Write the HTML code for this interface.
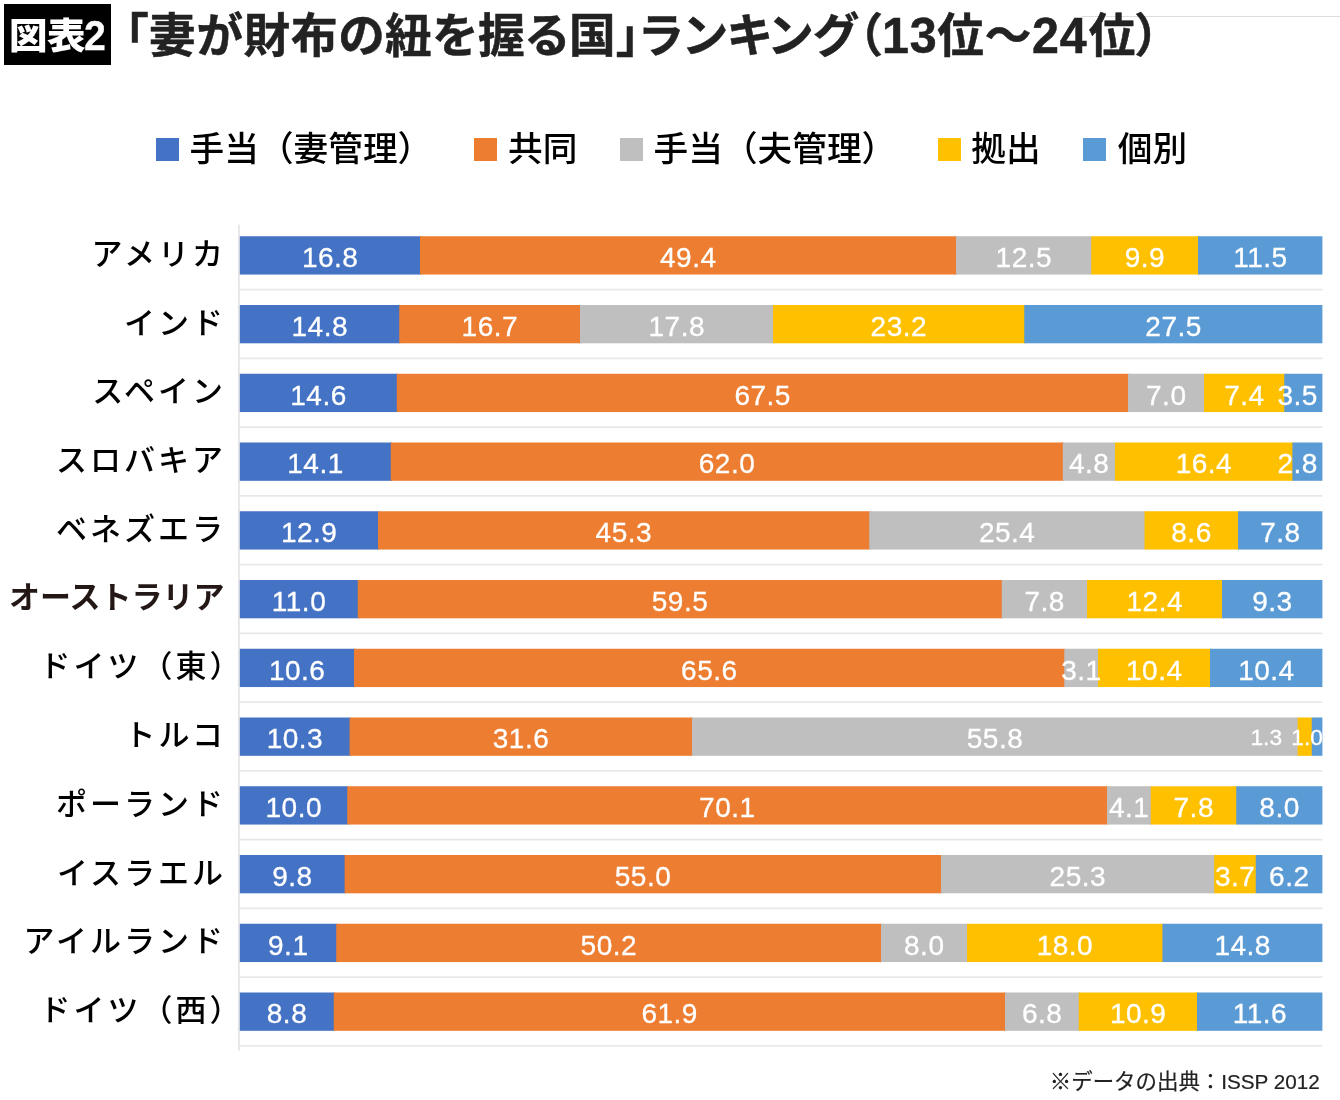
<!DOCTYPE html>
<html lang="ja">
<head>
<meta charset="utf-8">
<title>「妻が財布の紐を握る国」ランキング（13位～24位）</title>
<style>
html,body{margin:0;padding:0;background:#fff;}
body{width:1340px;height:1100px;position:relative;overflow:hidden;font-family:"Liberation Sans","Noto Sans CJK JP",sans-serif;color:#000;}
#fig{position:absolute;left:0;top:0;width:1340px;height:1100px;overflow:hidden;background:#fff;}
.rule{position:absolute;left:1082px;top:16px;width:258px;height:1px;background:#dedede;}
.badge{position:absolute;left:4px;top:4px;width:107px;height:60.6px;background:#000;}
.badge span{position:absolute;left:5.3px;top:3.2px;height:60px;color:#fff;font-weight:900;font-size:36.4px;line-height:60px;white-space:nowrap;letter-spacing:-.5px;transform:scaleX(1.06);transform-origin:0 50%;}
.badge b{position:absolute;left:80.2px;top:1.7px;height:60px;line-height:60px;color:#fff;font-weight:700;font-size:42.2px;-webkit-text-stroke:.3px #fff;transform:scaleX(.93);transform-origin:0 50%;}
h1{position:absolute;left:124.8px;top:.5px;-webkit-text-stroke:.5px #222;margin:0;height:70px;line-height:70px;font-size:46.6px;font-weight:700;color:#222;white-space:nowrap;font-feature-settings:"palt" 1;letter-spacing:.8px;}
h1 i{font-style:normal;margin-left:1.3px;}
h1 span{display:inline-block;position:relative;top:1.5px;font-size:49.4px;line-height:1;transform:scaleX(.98);transform-origin:0 50%;margin-right:-1.1px;}
.legend{position:absolute;left:0;top:122px;height:50px;width:1340px;margin:0;padding:0;list-style:none;}
.legend li{position:absolute;top:1.6px;height:50px;line-height:50px;font-size:34.67px;font-weight:500;white-space:nowrap;}
.legend i{position:absolute;top:14.6px;width:23px;height:23px;}
.c1{background:#4472c4}.c2{background:#ed7d31}.c3{background:#bfbfbf}.c4{background:#ffc000}.c5{background:#5b9bd5}
.plot{position:absolute;left:0;top:0;width:1340px;height:1100px;}
.bars{position:absolute;left:0;top:0;display:block;}
.row{position:absolute;left:0;width:1340px;}
.lab{position:absolute;right:1114px;top:-.3px;white-space:nowrap;text-align:right;font-size:31px;letter-spacing:3px;font-weight:500;transform:scaleY(.98);transform-origin:100% 50%;}
.lab.p{right:1096.6px;}
.lab.alt{font-weight:700;font-size:31px;letter-spacing:0;color:#231815;transform:none;right:1115.5px;top:-1px;}
.num{position:absolute;top:2.8px;color:#fff;-webkit-text-stroke:.3px #fff;font-size:28px;letter-spacing:.5px;text-indent:.5px;text-align:center;white-space:nowrap;}
.num.s{font-size:22.8px;top:.8px;letter-spacing:0;text-indent:0;}
.note{position:absolute;right:20.2px;top:1067.1px;margin:0;-webkit-text-stroke:.2px #222;font-size:21.45px;line-height:30px;color:#222;white-space:nowrap;}
.note span{font-size:20.7px;}
</style>
</head>
<body>
<div id="fig">
<div class="rule"></div>
<div class="badge"><span>図表</span><b>2</b></div>
<h1>「妻が財布の紐を握る国」ランキング（<span>13</span>位～<span>24</span><i>位）</i></h1>
<ul class="legend">
<li style="left:189.6px"><i class="c1" style="left:-33.5px"></i>手当（妻管理）</li>
<li style="left:508px"><i class="c2" style="left:-34px"></i>共同</li>
<li style="left:653.6px"><i class="c3" style="left:-33.8px"></i>手当（夫管理）</li>
<li style="left:971.3px"><i class="c4" style="left:-33.8px"></i>拠出</li>
<li style="left:1117.8px"><i class="c5" style="left:-35px"></i>個別</li>
</ul>
<div class="plot">
<svg class="bars" width="1340" height="1100" viewBox="0 0 1340 1100" role="img" aria-label="chart">
<line x1="238" y1="289.7" x2="1322.4" y2="289.7" stroke="#e8e8e8" stroke-width="1.8"/>
<line x1="238" y1="358.45" x2="1322.4" y2="358.45" stroke="#e8e8e8" stroke-width="1.8"/>
<line x1="238" y1="427.2" x2="1322.4" y2="427.2" stroke="#e8e8e8" stroke-width="1.8"/>
<line x1="238" y1="495.95" x2="1322.4" y2="495.95" stroke="#e8e8e8" stroke-width="1.8"/>
<line x1="238" y1="564.7" x2="1322.4" y2="564.7" stroke="#e8e8e8" stroke-width="1.8"/>
<line x1="238" y1="633.45" x2="1322.4" y2="633.45" stroke="#e8e8e8" stroke-width="1.8"/>
<line x1="238" y1="702.2" x2="1322.4" y2="702.2" stroke="#e8e8e8" stroke-width="1.8"/>
<line x1="238" y1="770.95" x2="1322.4" y2="770.95" stroke="#e8e8e8" stroke-width="1.8"/>
<line x1="238" y1="839.7" x2="1322.4" y2="839.7" stroke="#e8e8e8" stroke-width="1.8"/>
<line x1="238" y1="908.45" x2="1322.4" y2="908.45" stroke="#e8e8e8" stroke-width="1.8"/>
<line x1="238" y1="977.2" x2="1322.4" y2="977.2" stroke="#e8e8e8" stroke-width="1.8"/>
<line x1="238" y1="1045.95" x2="1322.4" y2="1045.95" stroke="#e8e8e8" stroke-width="1.8"/>
<line x1="238.9" y1="224.5" x2="238.9" y2="1050.5" stroke="#e5e5e5" stroke-width="1.8"/>
<rect x="239.8" y="236.25" width="181.4" height="38.3" fill="#4472c4"/>
<rect x="420" y="236.25" width="537.2" height="38.3" fill="#ed7d31"/>
<rect x="956" y="236.25" width="136.45" height="38.3" fill="#bfbfbf"/>
<rect x="1091.25" y="236.25" width="107.95" height="38.3" fill="#ffc000"/>
<rect x="1198" y="236.25" width="124.4" height="38.3" fill="#5b9bd5"/>
<rect x="239.8" y="305" width="160.65" height="38.3" fill="#4472c4"/>
<rect x="399.25" y="305" width="181.95" height="38.3" fill="#ed7d31"/>
<rect x="580" y="305" width="194.2" height="38.3" fill="#bfbfbf"/>
<rect x="773" y="305" width="252.45" height="38.3" fill="#ffc000"/>
<rect x="1024.25" y="305" width="298.15" height="38.3" fill="#5b9bd5"/>
<rect x="239.8" y="373.75" width="158.15" height="38.3" fill="#4472c4"/>
<rect x="396.75" y="373.75" width="732.45" height="38.3" fill="#ed7d31"/>
<rect x="1128" y="373.75" width="77.2" height="38.3" fill="#bfbfbf"/>
<rect x="1204" y="373.75" width="81.45" height="38.3" fill="#ffc000"/>
<rect x="1284.25" y="373.75" width="38.15" height="38.3" fill="#5b9bd5"/>
<rect x="239.8" y="442.5" width="152.15" height="38.3" fill="#4472c4"/>
<rect x="390.75" y="442.5" width="673.25" height="38.3" fill="#ed7d31"/>
<rect x="1062.8" y="442.5" width="53.4" height="38.3" fill="#bfbfbf"/>
<rect x="1115" y="442.5" width="178.6" height="38.3" fill="#ffc000"/>
<rect x="1292.4" y="442.5" width="30" height="38.3" fill="#5b9bd5"/>
<rect x="239.8" y="511.25" width="139.4" height="38.3" fill="#4472c4"/>
<rect x="378" y="511.25" width="492.45" height="38.3" fill="#ed7d31"/>
<rect x="869.25" y="511.25" width="276.45" height="38.3" fill="#bfbfbf"/>
<rect x="1144.5" y="511.25" width="94.7" height="38.3" fill="#ffc000"/>
<rect x="1238" y="511.25" width="84.4" height="38.3" fill="#5b9bd5"/>
<rect x="239.8" y="580" width="119.15" height="38.3" fill="#4472c4"/>
<rect x="357.75" y="580" width="645.2" height="38.3" fill="#ed7d31"/>
<rect x="1001.75" y="580" width="86.45" height="38.3" fill="#bfbfbf"/>
<rect x="1087" y="580" width="136.2" height="38.3" fill="#ffc000"/>
<rect x="1222" y="580" width="100.4" height="38.3" fill="#5b9bd5"/>
<rect x="239.8" y="648.75" width="115.4" height="38.3" fill="#4472c4"/>
<rect x="354" y="648.75" width="711.45" height="38.3" fill="#ed7d31"/>
<rect x="1064.25" y="648.75" width="34.95" height="38.3" fill="#bfbfbf"/>
<rect x="1098" y="648.75" width="113.2" height="38.3" fill="#ffc000"/>
<rect x="1210" y="648.75" width="112.4" height="38.3" fill="#5b9bd5"/>
<rect x="239.8" y="717.5" width="111" height="38.3" fill="#4472c4"/>
<rect x="349.6" y="717.5" width="343.6" height="38.3" fill="#ed7d31"/>
<rect x="692" y="717.5" width="606.8" height="38.3" fill="#bfbfbf"/>
<rect x="1297.6" y="717.5" width="15.35" height="38.3" fill="#ffc000"/>
<rect x="1311.75" y="717.5" width="10.65" height="38.3" fill="#5b9bd5"/>
<rect x="239.8" y="786.25" width="108.65" height="38.3" fill="#4472c4"/>
<rect x="347.25" y="786.25" width="760.95" height="38.3" fill="#ed7d31"/>
<rect x="1107" y="786.25" width="44.95" height="38.3" fill="#bfbfbf"/>
<rect x="1150.75" y="786.25" width="86.7" height="38.3" fill="#ffc000"/>
<rect x="1236.25" y="786.25" width="86.15" height="38.3" fill="#5b9bd5"/>
<rect x="239.8" y="855" width="106" height="38.3" fill="#4472c4"/>
<rect x="344.6" y="855" width="597.6" height="38.3" fill="#ed7d31"/>
<rect x="941" y="855" width="274.4" height="38.3" fill="#bfbfbf"/>
<rect x="1214.2" y="855" width="42.75" height="38.3" fill="#ffc000"/>
<rect x="1255.75" y="855" width="66.65" height="38.3" fill="#5b9bd5"/>
<rect x="239.8" y="923.75" width="97.65" height="38.3" fill="#4472c4"/>
<rect x="336.25" y="923.75" width="545.95" height="38.3" fill="#ed7d31"/>
<rect x="881" y="923.75" width="87.2" height="38.3" fill="#bfbfbf"/>
<rect x="967" y="923.75" width="196.6" height="38.3" fill="#ffc000"/>
<rect x="1162.4" y="923.75" width="160" height="38.3" fill="#5b9bd5"/>
<rect x="239.8" y="992.5" width="95.15" height="38.3" fill="#4472c4"/>
<rect x="333.75" y="992.5" width="672.45" height="38.3" fill="#ed7d31"/>
<rect x="1005" y="992.5" width="74.95" height="38.3" fill="#bfbfbf"/>
<rect x="1078.75" y="992.5" width="119.45" height="38.3" fill="#ffc000"/>
<rect x="1197" y="992.5" width="125.4" height="38.3" fill="#5b9bd5"/>
</svg>
<div class="row" style="top:236.25px;height:38.3px;line-height:38.3px">
<div class="lab">アメリカ</div>
<div class="num" style="left:279.9px;width:100px">16.8</div>
<div class="num" style="left:638px;width:100px">49.4</div>
<div class="num" style="left:973.62px;width:100px">12.5</div>
<div class="num" style="left:1094.62px;width:100px">9.9</div>
<div class="num" style="left:1210.2px;width:100px">11.5</div>
</div>
<div class="row" style="top:305px;height:38.3px;line-height:38.3px">
<div class="lab">インド</div>
<div class="num" style="left:269.52px;width:100px">14.8</div>
<div class="num" style="left:439.62px;width:100px">16.7</div>
<div class="num" style="left:626.5px;width:100px">17.8</div>
<div class="num" style="left:848.62px;width:100px">23.2</div>
<div class="num" style="left:1123.33px;width:100px">27.5</div>
</div>
<div class="row" style="top:373.75px;height:38.3px;line-height:38.3px">
<div class="lab">スペイン</div>
<div class="num" style="left:268.27px;width:100px">14.6</div>
<div class="num" style="left:712.38px;width:100px">67.5</div>
<div class="num" style="left:1116px;width:100px">7.0</div>
<div class="num" style="left:1194.12px;width:100px">7.4</div>
<div class="num" style="left:1247.4px;width:100px">3.5</div>
</div>
<div class="row" style="top:442.5px;height:38.3px;line-height:38.3px">
<div class="lab">スロバキア</div>
<div class="num" style="left:265.27px;width:100px">14.1</div>
<div class="num" style="left:676.77px;width:100px">62.0</div>
<div class="num" style="left:1038.9px;width:100px">4.8</div>
<div class="num" style="left:1153.7px;width:100px">16.4</div>
<div class="num" style="left:1247.4px;width:100px">2.8</div>
</div>
<div class="row" style="top:511.25px;height:38.3px;line-height:38.3px">
<div class="lab">ベネズエラ</div>
<div class="num" style="left:258.9px;width:100px">12.9</div>
<div class="num" style="left:573.62px;width:100px">45.3</div>
<div class="num" style="left:956.88px;width:100px">25.4</div>
<div class="num" style="left:1141.25px;width:100px">8.6</div>
<div class="num" style="left:1230.2px;width:100px">7.8</div>
</div>
<div class="row" style="top:580px;height:38.3px;line-height:38.3px">
<div class="lab alt">オーストラリア</div>
<div class="num" style="left:248.77px;width:100px">11.0</div>
<div class="num" style="left:629.75px;width:100px">59.5</div>
<div class="num" style="left:994.38px;width:100px">7.8</div>
<div class="num" style="left:1104.5px;width:100px">12.4</div>
<div class="num" style="left:1222.2px;width:100px">9.3</div>
</div>
<div class="row" style="top:648.75px;height:38.3px;line-height:38.3px">
<div class="lab p">ドイツ（東）</div>
<div class="num" style="left:246.9px;width:100px">10.6</div>
<div class="num" style="left:659.12px;width:100px">65.6</div>
<div class="num" style="left:1031.12px;width:100px">3.1</div>
<div class="num" style="left:1104px;width:100px">10.4</div>
<div class="num" style="left:1216.2px;width:100px">10.4</div>
</div>
<div class="row" style="top:717.5px;height:38.3px;line-height:38.3px">
<div class="lab">トルコ</div>
<div class="num" style="left:244.7px;width:100px">10.3</div>
<div class="num" style="left:470.8px;width:100px">31.6</div>
<div class="num" style="left:944.8px;width:100px">55.8</div>
<div class="num s" style="left:1216.3px;width:100px">1.3</div>
<div class="num s" style="left:1257.2px;width:100px">1.0</div>
</div>
<div class="row" style="top:786.25px;height:38.3px;line-height:38.3px">
<div class="lab">ポーランド</div>
<div class="num" style="left:243.52px;width:100px">10.0</div>
<div class="num" style="left:677.12px;width:100px">70.1</div>
<div class="num" style="left:1078.88px;width:100px">4.1</div>
<div class="num" style="left:1143.5px;width:100px">7.8</div>
<div class="num" style="left:1229.33px;width:100px">8.0</div>
</div>
<div class="row" style="top:855px;height:38.3px;line-height:38.3px">
<div class="lab">イスラエル</div>
<div class="num" style="left:242.2px;width:100px">9.8</div>
<div class="num" style="left:592.8px;width:100px">55.0</div>
<div class="num" style="left:1027.6px;width:100px">25.3</div>
<div class="num" style="left:1184.97px;width:100px">3.7</div>
<div class="num" style="left:1239.08px;width:100px">6.2</div>
</div>
<div class="row" style="top:923.75px;height:38.3px;line-height:38.3px">
<div class="lab">アイルランド</div>
<div class="num" style="left:238.02px;width:100px">9.1</div>
<div class="num" style="left:558.62px;width:100px">50.2</div>
<div class="num" style="left:874px;width:100px">8.0</div>
<div class="num" style="left:1014.7px;width:100px">18.0</div>
<div class="num" style="left:1192.4px;width:100px">14.8</div>
</div>
<div class="row" style="top:992.5px;height:38.3px;line-height:38.3px">
<div class="lab p">ドイツ（西）</div>
<div class="num" style="left:236.77px;width:100px">8.8</div>
<div class="num" style="left:619.38px;width:100px">61.9</div>
<div class="num" style="left:991.88px;width:100px">6.8</div>
<div class="num" style="left:1087.88px;width:100px">10.9</div>
<div class="num" style="left:1209.7px;width:100px">11.6</div>
</div>
</div>
<p class="note">※データの出典：<span>ISSP 2012</span></p>
</div>
</body>
</html>
